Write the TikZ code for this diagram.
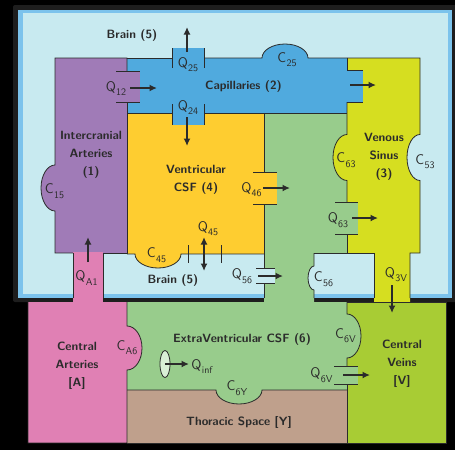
\documentclass[tikz,border=0pt]{standalone}
\usepackage{fontspec}
\usetikzlibrary{arrows.meta,shapes.geometric}
\definecolor{frame}{HTML}{1E1E1E}
\definecolor{skyb}{HTML}{7CC3EC}
\definecolor{brainc}{HTML}{C8EAF0}
\definecolor{purp}{HTML}{A07BB7}
\definecolor{capb}{HTML}{50AADE}
\definecolor{ventY}{HTML}{FECD30}
\definecolor{venS}{HTML}{D6DE20}
\definecolor{evg}{HTML}{98CC8C}
\definecolor{pinkA}{HTML}{E080B4}
\definecolor{thor}{HTML}{BFA08C}
\definecolor{limeV}{HTML}{A8CC34}
\definecolor{ink}{HTML}{2B2B2B}
\definecolor{ellf}{HTML}{D9EFD6}
\newcommand{\QS}[2]{#1\kern0.3pt\raisebox{-4.5pt}{\fontsize{10}{12}\selectfont #2}}
\begin{document}
\begin{tikzpicture}[x=1pt,y=-1pt,
 edge/.style={draw=ink,line width=0.8pt},
 flow/.style={draw=ink,line width=2.3pt,-{Latex[length=7.5pt,width=7pt]}},
 flowtwo/.style={draw=ink,line width=2.3pt,{Latex[length=7.5pt,width=7pt]}-{Latex[length=7.5pt,width=7pt]}},
 qlab/.style={inner sep=0pt,text=ink,font=\fontsize{14}{16}\selectfont\sffamily},
 clab/.style={inner sep=0pt,text=ink,align=center,font=\fontsize{12}{18}\selectfont\sffamily\bfseries}]
\useasboundingbox (0,0) rectangle (455,450);
% background and brain box
\fill[black] (0,0) rectangle (455,450);
\fill[frame, rounded corners=2pt] (13,5) rectangle (462,302);
\fill[skyb] (18,9.5) rectangle (452,297.5);
\fill[brainc] (22.5,13) rectangle (448,293.5);
% extraventricular CSF (green)
\fill[evg] (264,113)--(347,113)--(347,253)--(314,253)--(314,302)--(347,302)--(347,390)--(127,390)--(127,302)--(264,302)--cycle;
% venous sinus
\fill[venS] (347,58)--(420,58)--(420,253)--(410,253)--(410,302)--(374,302)--(374,253)--(347,253)--cycle;
\fill[venS] (347,180.5) .. controls (339.3,180.5) and (333,170.2) .. (333,157.5) .. controls (333,144.8) and (339.3,134.5) .. (347,134.5) -- (348,134.5) -- (348,180.5) -- cycle;
\fill[brainc] (420,134.5) .. controls (412.8,134.5) and (407,144.8) .. (407,157.5) .. controls (407,170.2) and (412.8,180.5) .. (420,180.5) -- (421,180.5) -- (421,134.5) -- cycle;
% ventricular CSF
\fill[ventY] (127,113) rectangle (264,254);
\fill[ventY] (263,172) rectangle (277,204);
\fill[ventY] (135,254) .. controls (135,261.7) and (145.3,268) .. (158,268) .. controls (170.7,268) and (181,261.7) .. (181,254) -- (181,253) -- (135,253) -- cycle;
% capillaries
\fill[capb] (127,58) rectangle (347,113);
\fill[capb] (172,48) rectangle (204,59);
\fill[capb] (172,112) rectangle (204,125);
\fill[capb] (346,70) rectangle (363,102);
\fill[capb] (262,58) .. controls (262,50.3) and (272.3,44) .. (285,44) .. controls (297.7,44) and (308,50.3) .. (308,58) -- (308,59) -- (262,59) -- cycle;
% intercranial arteries
\fill[purp] (55,58) rectangle (127,253);
\fill[purp] (126,71) rectangle (140,102);
\fill[purp] (55,165) .. controls (47.3,165) and (41,175.3) .. (41,188) .. controls (41,200.7) and (47.3,211) .. (55,211) -- (56,211) -- (56,165) -- cycle;
% small tabs
\fill[evg] (346,202) rectangle (358,234);
\fill[brainc] (263,268) rectangle (275,283);
\fill[brainc] (314,290) .. controls (310.7,290) and (308,284.6) .. (308,278) .. controls (308,271.4) and (310.7,266) .. (314,266) -- (315,266) -- (315,290) -- cycle;
% central arteries
\fill[pinkA] (28,302) rectangle (127,443);
\fill[pinkA] (73,252) rectangle (103,303);
\fill[pinkA] (127,370) .. controls (135.3,370) and (142,360.2) .. (142,348) .. controls (142,335.8) and (135.3,326) .. (127,326) -- (126,326) -- (126,370) -- cycle;
% thoracic space
\fill[thor] (127,390) rectangle (347,443);
\fill[evg] (216,390) .. controls (216,397.7) and (226.3,404) .. (239,404) .. controls (251.7,404) and (262,397.7) .. (262,390) -- (262,389) -- (216,389) -- cycle;
% central veins
\fill[limeV] (347,302) rectangle (446,443);
\fill[evg] (347,358) .. controls (354.7,358) and (361,348.2) .. (361,336) .. controls (361,323.8) and (354.7,314) .. (347,314) -- (346,314) -- (346,358) -- cycle;
\fill[evg] (346,366) rectangle (358,384);

% ---- outlines ----
% intercranial arteries
\draw[edge] (127,71)--(127,58)--(55,58)--(55,165) .. controls (47.3,165) and (41,175.3) .. (41,188) .. controls (41,200.7) and (47.3,211) .. (55,211) --(55,253)--(73,253);
\draw[edge] (103,253)--(127,253)--(127,102);
\draw[edge] (116,71)--(140,71);
\draw[edge] (116,102)--(140,102);
% capillaries
\draw[edge] (127,58)--(172,58);
\draw[edge] (204,58)--(262,58) .. controls (262,50.3) and (272.3,44) .. (285,44) .. controls (297.7,44) and (308,50.3) .. (308,58) -- (347,58);
\draw[edge] (172,48)--(172,68);
\draw[edge] (204,48)--(204,68);
\draw[edge] (127,113)--(172,113);
\draw[edge] (204,113)--(347,113);
\draw[edge] (172,104)--(172,125);
\draw[edge] (204,104)--(204,125);
% venous sinus
\draw[edge] (347,58)--(420,58)--(420,134.5) .. controls (412.8,134.5) and (407,144.8) .. (407,157.5) .. controls (407,170.2) and (412.8,180.5) .. (420,180.5) -- (420,253) -- (410,253) -- (410,298);
\draw[edge] (374,298) -- (374,253) -- (314,253);
\draw[edge] (347,253) -- (347,234);
\draw[edge] (347,202) -- (347,180.5) .. controls (339.3,180.5) and (333,170.2) .. (333,157.5) .. controls (333,144.8) and (339.3,134.5) .. (347,134.5) -- (347,102);
\draw[edge] (347,70) -- (347,58);
\draw[edge] (347,70)--(363,70);
\draw[edge] (347,102)--(363,102);
\draw[edge] (335,202)--(358,202);
\draw[edge] (335,234)--(358,234);
% ventricular CSF
\draw[edge] (264,113)--(264,172);
\draw[edge] (264,204)--(264,268);
\draw[edge] (264,283)--(264,298);
\draw[edge] (253,172)--(277,172);
\draw[edge] (253,204)--(277,204);
\draw[edge] (127,254)--(135,254) .. controls (135,261.7) and (145.3,268) .. (158,268) .. controls (170.7,268) and (181,261.7) .. (181,254) -- (264,254);
\draw[edge] (188,245)--(188,263);
\draw[edge] (221,245)--(221,263);
% green column, brain side
\draw[edge] (314,298)--(314,290) .. controls (310.7,290) and (308,284.6) .. (308,278) .. controls (308,271.4) and (310.7,266) .. (314,266) -- (314,253);
\draw[edge] (256,268)--(275,268);
\draw[edge] (256,283)--(275,283);
% central arteries
\draw[edge] (73,253)--(73,298);
\draw[edge] (103,253)--(103,298);
\draw[edge] (28,302)--(28,443)--(127,443)--(127,370) .. controls (135.3,370) and (142,360.2) .. (142,348) .. controls (142,335.8) and (135.3,326) .. (127,326) -- (127,302);
% thoracic space
\draw[edge] (127,390)--(216,390) .. controls (216,397.7) and (226.3,404) .. (239,404) .. controls (251.7,404) and (262,397.7) .. (262,390) -- (347,390);
\draw[edge] (127,443)--(347,443);
% central veins
\draw[edge] (347,384)--(347,443)--(446,443)--(446,302)--(347,302);
\draw[edge] (347,366)--(347,358) .. controls (354.7,358) and (361,348.2) .. (361,336) .. controls (361,323.8) and (354.7,314) .. (347,314) -- (347,302);
\draw[edge] (334,366)--(358,366);
\draw[edge] (334,384)--(358,384);

% ---- compartment labels ----
\node[clab] (brainT) at (132,35) {Brain (5)};
\node[clab] (brainB) at (173,280) {Brain (5)};
\node[clab] (capl) at (243.5,86) {Capillaries (2)};
\node[clab] (icl) at (91,155) {Intercranial\\Arteries\\(1)};
\node[clab] (vcl) at (196,180) {Ventricular\\CSF (4)};
\node[clab] (vsl) at (384,157) {Venous\\Sinus\\(3)};
\node[clab] (cal) at (77,366) {Central\\Arteries\\{[A]}};
\node[clab] (cvl) at (402,364) {Central\\Veins\\{[V]}};
\node[clab] (evl) at (242,339) {ExtraVentricular CSF (6)};
\node[clab] (tsl) at (239,422) {Thoracic Space [Y]};

% ---- flow / compliance labels ----
\node[qlab] (q12) at (116,88.5) {\QS{Q}{12}};
\node[qlab] (q25) at (188,64.5) {\QS{Q}{25}};
\node[qlab] (q24) at (188,107.5) {\QS{Q}{24}};
\node[qlab] (c25) at (287,59.5) {\QS{C}{25}};
\node[qlab] (c15) at (54.5,191) {\QS{C}{15}};
\node[qlab] (q46) at (251.5,189.5) {\QS{Q}{46}};
\node[qlab] (c63) at (346,160) {\QS{C}{63}};
\node[qlab] (c53) at (425,161.5) {\QS{C}{53}};
\node[qlab] (q63) at (338,220) {\QS{Q}{63}};
\node[qlab] (q45) at (208,228.5) {\QS{Q}{45}};
\node[qlab] (c45) at (156.5,255) {\QS{C}{45}};
\node[qlab] (q56) at (242,276) {\QS{Q}{56}};
\node[qlab] (c56) at (323.5,279) {\QS{C}{56}};
\node[qlab] (qa1) at (86.5,278) {\QS{Q}{A1}};
\node[qlab] (q3v) at (396,274.5) {\QS{Q}{3V}};
\node[qlab] (ca6) at (127,347.5) {\QS{C}{A6}};
\node[qlab] (qinf) at (202,366.5) {\QS{Q}{inf}};
\node[qlab] (c6y) at (237,388) {\QS{C}{6Y}};
\node[qlab] (c6v) at (345.5,335.5) {\QS{C}{6V}};
\node[qlab] (q6v) at (321.5,375) {\QS{Q}{6V}};

% ---- arrows ----
\node[draw=ink, line width=0.8pt, fill=ellf, ellipse, minimum width=10pt, minimum height=27pt, inner sep=0pt] (qinfe) at (165,364) {};
\coordinate (a12s) at (130,88);   \coordinate (a12e) at (157,88);
\coordinate (a25s) at (187,52);   \coordinate (a25e) at (187,27);
\coordinate (a24s) at (187,117);  \coordinate (a24e) at (187,146);
\coordinate (a23s) at (350,85);   \coordinate (a23e) at (376,85);
\coordinate (a46s) at (263,188);  \coordinate (a46e) at (290,188);
\coordinate (a63s) at (352,218);  \coordinate (a63e) at (378,218);
\coordinate (a45s) at (204,237);  \coordinate (a45e) at (204,271);
\coordinate (a56s) at (258,276);  \coordinate (a56e) at (283,276);
\coordinate (aa1s) at (88,262);   \coordinate (aa1e) at (88,237);
\coordinate (a3vs) at (392,285);  \coordinate (a3ve) at (392,313);
\coordinate (ainfe) at (189,364);
\coordinate (a6vs) at (343,375);  \coordinate (a6ve) at (370,375);
\draw[flow] (a12s) -- (a12e);
\draw[flow] (a25s) -- (a25e);
\draw[flow] (a24s) -- (a24e);
\draw[flow] (a23s) -- (a23e);
\draw[flow] (a46s) -- (a46e);
\draw[flow] (a63s) -- (a63e);
\draw[flowtwo] (a45s) -- (a45e);
\draw[flow] (a56s) -- (a56e);
\draw[flow] (aa1s) -- (aa1e);
\draw[flow] (a3vs) -- (a3ve);
\draw[flow] (qinfe.center) -- (ainfe);
\draw[flow] (a6vs) -- (a6ve);
\end{tikzpicture}
\end{document}
